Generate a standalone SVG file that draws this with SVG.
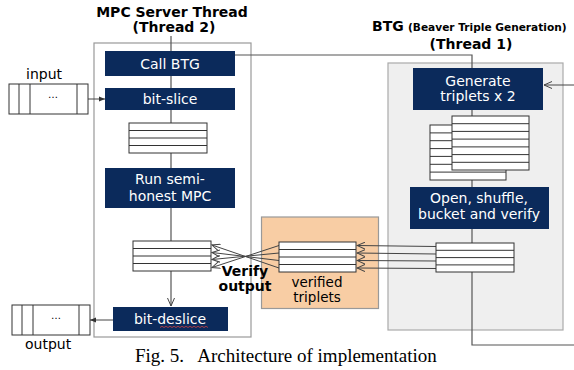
<svg xmlns="http://www.w3.org/2000/svg" width="574" height="370" viewBox="0 0 574 370">
<defs>
<marker id="open" markerUnits="userSpaceOnUse" markerWidth="9" markerHeight="8" refX="8" refY="4" orient="auto">
<path d="M0,0.5 L8,4 L0,7.5" fill="none" stroke="#444" stroke-width="1"/>
</marker>
<marker id="fill" markerUnits="userSpaceOnUse" markerWidth="7" markerHeight="6" refX="6" refY="3" orient="auto">
<path d="M0,0.5 L6,3 L0,5.5 z" fill="#333"/>
</marker>
</defs>
<style>
.title{font-family:"DejaVu Sans",Verdana,sans-serif;font-weight:bold;font-size:14px;fill:#000}
.lbl{font-family:"DejaVu Sans",Verdana,sans-serif;font-size:14px;fill:#000}
.box{fill:#0b2a5b}
.btxt{font-family:"DejaVu Sans",Verdana,sans-serif;font-size:14px;fill:#fff;text-anchor:middle}
.tbl{fill:#fff;stroke:#333;stroke-width:1}
.row{stroke:#333;stroke-width:1}
.ln{fill:none;stroke:#555;stroke-width:1.2}
.arr{fill:none;stroke:#444;stroke-width:1}
.cap{font-family:"Liberation Serif","Times New Roman",serif;font-size:19px;fill:#000}
</style>
<rect width="574" height="370" fill="#fff"/>

<!-- titles -->
<g id="title-mpc">
<text class="title" x="172" y="16.5" text-anchor="middle">MPC Server Thread</text>
<text class="title" x="174" y="32" text-anchor="middle">(Thread 2)</text>
</g>
<g id="title-btg">
<text class="title" x="372" y="31">BTG</text>
<text class="title" x="408" y="31" style="font-size:10.6px">(Beaver Triple Generation)</text>
<text class="title" x="471" y="49" text-anchor="middle">(Thread 1)</text>
</g>

<!-- frames -->
<g id="frame-mpc"><rect x="94" y="43" width="157" height="294" fill="#fff" stroke="#999" stroke-width="1.2"/></g>
<g id="frame-btg"><rect x="388" y="63" width="175" height="267" fill="#efefef" stroke="#aaa" stroke-width="1.2"/></g>
<g id="verified"><rect x="261.5" y="217" width="117" height="91.5" fill="#f8cda4" stroke="#999" stroke-width="1.2"/>
<text class="lbl" x="317" y="287" text-anchor="middle" style="font-size:13.5px">verified</text>
<text class="lbl" x="317" y="302" text-anchor="middle" style="font-size:13.5px">triplets</text>
</g>

<!-- connectors -->
<g id="connectors">
<path class="ln" d="M171,36 V51 M171,76 V88 M171,110 V123 M171,153 V168 M171,208 V241"/>
<path class="ln" d="M171,271 V306" marker-end="url(#open)"/>
<path class="ln" d="M235,55 H472 V68"/>
<path class="ln" d="M472,110 V116 M472,180 V187 M472,229 V243"/>
<path class="ln" d="M472,272 V345 H574"/>
<path class="arr" d="M574,85 H544" marker-end="url(#open)"/>
<path class="arr" d="M88,99 H105" marker-end="url(#fill)"/>
<path class="arr" d="M113,320 H90" marker-end="url(#fill)"/>
<path class="arr" d="M436,246.5 L357,245.5" marker-end="url(#open)"/>
<path class="arr" d="M436,254 L357,253" marker-end="url(#open)"/>
<path class="arr" d="M436,261 L357,260.5" marker-end="url(#open)"/>
<path class="arr" d="M436,268.5 L357,268" marker-end="url(#open)"/>
<path class="arr" d="M279,245.5 L212,267.5" marker-end="url(#open)"/>
<path class="arr" d="M279,253 L212,259.5" marker-end="url(#open)"/>
<path class="arr" d="M279,260.5 L212,252.5" marker-end="url(#open)"/>
<path class="arr" d="M279,268 L212,245" marker-end="url(#open)"/>
</g>

<!-- input / output -->
<g id="input">
<text class="lbl" x="26" y="79">input</text>
<rect class="tbl" x="9" y="84" width="79" height="30"/>
<path class="row" d="M19,84 V114 M30,84 V114 M77,84 V114"/>
<text class="lbl" x="53" y="98" text-anchor="middle" style="font-size:10px">…</text>
</g>
<g id="output">
<rect class="tbl" x="12" y="305" width="78" height="30"/>
<path class="row" d="M22,305 V335 M33,305 V335 M79,305 V335"/>
<text class="lbl" x="56" y="319" text-anchor="middle" style="font-size:10px">…</text>
<text class="lbl" x="25" y="349">output</text>
</g>

<!-- MPC nodes -->
<g id="call-btg"><rect class="box" x="105" y="51" width="130" height="25"/><text class="btxt" x="170" y="68.5">Call BTG</text></g>
<g id="bit-slice"><rect class="box" x="105" y="88" width="130" height="22"/><text class="btxt" x="170" y="104">bit-slice</text></g>
<g id="table1"><rect class="tbl" x="129" y="123" width="78" height="30"/><path class="row" d="M129,130.5 H207 M129,138 H207 M129,145.5 H207"/></g>
<g id="run-mpc"><rect class="box" x="105" y="168" width="130" height="40"/><text class="btxt" x="170" y="184">Run semi-</text><text class="btxt" x="170" y="201">honest MPC</text></g>
<g id="table2"><rect class="tbl" x="133" y="241" width="78" height="30"/><path class="row" d="M133,248.5 H211 M133,256 H211 M133,263.5 H211"/></g>
<g id="verify-output">
<text class="title" x="245" y="276" text-anchor="middle">Verify</text>
<text class="title" x="245" y="291" text-anchor="middle">output</text>
</g>
<g id="bit-deslice"><rect class="box" x="113" y="307" width="115" height="24"/><text class="btxt" x="170" y="324">bit-deslice</text>
<path d="M160,327.5 l2,-1.2 l2,1.2 l2,-1.2 l2,1.2 l2,-1.2 l2,1.2 l2,-1.2 l2,1.2 l2,-1.2 l2,1.2 l2,-1.2 l2,1.2 l2,-1.2 l2,1.2 l2,-1.2 l2,1.2 l2,-1.2 l2,1.2 l2,-1.2 l2,1.2 l2,-1.2 l2,1.2 l2,-1.2 l2,1.2" fill="none" stroke="#d04040" stroke-width="0.8"/>
</g>
<g id="table3"><rect class="tbl" x="279" y="242" width="77" height="30"/><path class="row" d="M279,249.5 H356 M279,257 H356 M279,264.5 H356"/></g>

<!-- BTG nodes -->
<g id="generate"><rect class="box" x="413" y="68" width="130" height="42"/><text class="btxt" x="478" y="86">Generate</text><text class="btxt" x="478" y="101">triplets x 2</text></g>
<g id="triplet-stack">
<rect class="tbl" x="430" y="125" width="76" height="55"/>
<path class="row" d="M430,132.9 H506 M430,140.7 H506 M430,148.6 H506 M430,156.4 H506 M430,164.3 H506 M430,172.1 H506"/>
<rect class="tbl" x="452" y="116" width="77" height="54"/>
<path class="row" d="M452,123.7 H529 M452,131.4 H529 M452,139.1 H529 M452,146.9 H529 M452,154.6 H529 M452,162.3 H529"/>
</g>
<g id="open-shuffle"><rect class="box" x="410" y="187" width="139" height="42"/><text class="btxt" x="479" y="203">Open, shuffle,</text><text class="btxt" x="479" y="218.5">bucket and verify</text></g>
<g id="table4"><rect class="tbl" x="436" y="243" width="78" height="29"/><path class="row" d="M436,250.3 H514 M436,257.6 H514 M436,264.9 H514"/></g>

<g id="caption"><text class="cap" x="135" y="362" xml:space="preserve">Fig. 5.   Architecture of implementation</text></g>
</svg>
